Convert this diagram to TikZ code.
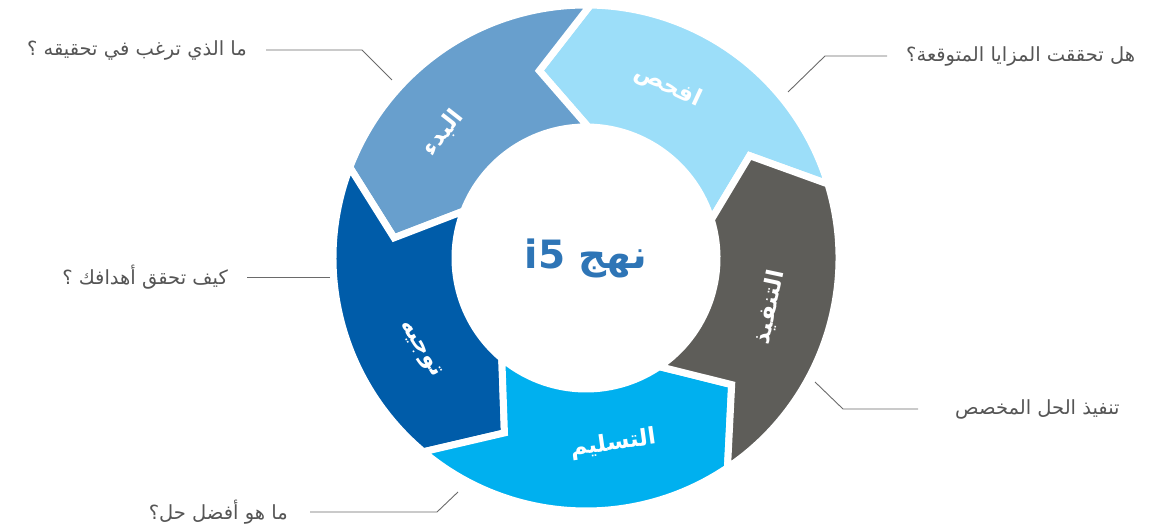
\documentclass[tikz,border=0pt]{standalone}
\usepackage{fontspec}
\newfontfamily\arabicfont[Script=Arabic]{DejaVu Sans}
\TeXXeTstate=1
\usetikzlibrary{positioning}

\definecolor{startblue}{HTML}{689FCD}
\definecolor{checkblue}{HTML}{9CDEF9}
\definecolor{implgray}{HTML}{5E5D59}
\definecolor{delivblue}{HTML}{00B0EF}
\definecolor{directblue}{HTML}{005CA9}
\definecolor{titleblue}{HTML}{2E75B6}
\definecolor{txtgray}{HTML}{555555}
\definecolor{linegray}{HTML}{6A6A6A}

\tikzset{
  ringpart/.style={draw=white, line width=7pt, line join=miter},
  steplabel/.style={text=white, font=\arabicfont\bfseries\fontsize{23}{27}\selectfont},
  callout/.style={text=txtgray, font=\arabicfont\fontsize{19.5}{23}\selectfont, inner ysep=0pt, inner xsep=19pt},
  callline/.style={draw=linegray, line width=0.9pt}
}

% colour, from angle, to angle
\newcommand{\ringseg}[3]{%
  \filldraw[ringpart, fill=#1] (#2:253pt) arc[start angle=#2, end angle=#3, radius=253pt]
    -- (#3+15:193pt) -- (#3:131pt) arc[start angle=#3, end angle=#2, radius=131pt]
    -- (#2+15:193pt) -- cycle;}

\begin{document}
\begin{tikzpicture}[x=1pt, y=1pt]
  \useasboundingbox (0,0) rectangle (1157,527);

  \begin{scope}[shift={(586,269)}]
    % Ring
    \ringseg{checkblue}{17}{89}
    \ringseg{startblue}{89}{159}
    \ringseg{directblue}{159}{230}
    \ringseg{delivblue}{230}{304}
    \ringseg{implgray}{304}{377}

    % Step labels
    \node[steplabel, rotate=52] (start) at (138.8:190pt) {\beginR البدء\endR};
    \node[steplabel, rotate=-25] (check) at (64.5:190pt) {\beginR افحص\endR};
    \node[steplabel, rotate=78] (implement) at (-15:190pt) {\beginR التنفيذ\endR};
    \node[steplabel, rotate=8] (deliver) at (-81.7:188pt) {\beginR التسليم\endR};
    \node[steplabel, rotate=-58] (direct) at (208.7:190pt) {\beginR توجيه\endR};

    % Title
    \node[text=titleblue, font=\arabicfont\bfseries\fontsize{39}{45}\selectfont] (title) at (0,0)
      {\beginR نهج \beginL i5\endL\endR};
  \end{scope}

  % Callouts
  \node[callout, anchor=east] (q1) at (266,477) {\beginR ما الذي ترغب في تحقيقه ؟\endR};
  \coordinate (q1a) at (392,447);
  \coordinate (q1b) at (362,477);
  \draw[callline] (q1a) -- (q1b) -- (q1.east);

  \node[callout, anchor=west] (q2) at (887,471) {\beginR هل تحققت المزايا المتوقعة؟\endR};
  \coordinate (q2a) at (788,435);
  \coordinate (q2b) at (825,471);
  \draw[callline] (q2a) -- (q2b) -- (q2.west);

  \node[callout, anchor=east] (q3) at (247,250) {\beginR كيف تحقق أهدافك ؟\endR};
  \coordinate (q3a) at (330,250);
  \draw[callline] (q3a) -- (q3.east);

  \node[callout, anchor=west, inner xsep=37pt] (q4) at (918,118) {\beginR تنفيذ الحل المخصص\endR};
  \coordinate (q4a) at (815,145);
  \coordinate (q4b) at (843,118);
  \draw[callline] (q4a) -- (q4b) -- (q4.west);

  \node[callout, anchor=east, inner xsep=22pt] (q5) at (310,15) {\beginR ما هو أفضل حل؟\endR};
  \coordinate (q5a) at (458,35);
  \coordinate (q5b) at (437,15);
  \draw[callline] (q5a) -- (q5b) -- (q5.east);
\end{tikzpicture}
\end{document}
